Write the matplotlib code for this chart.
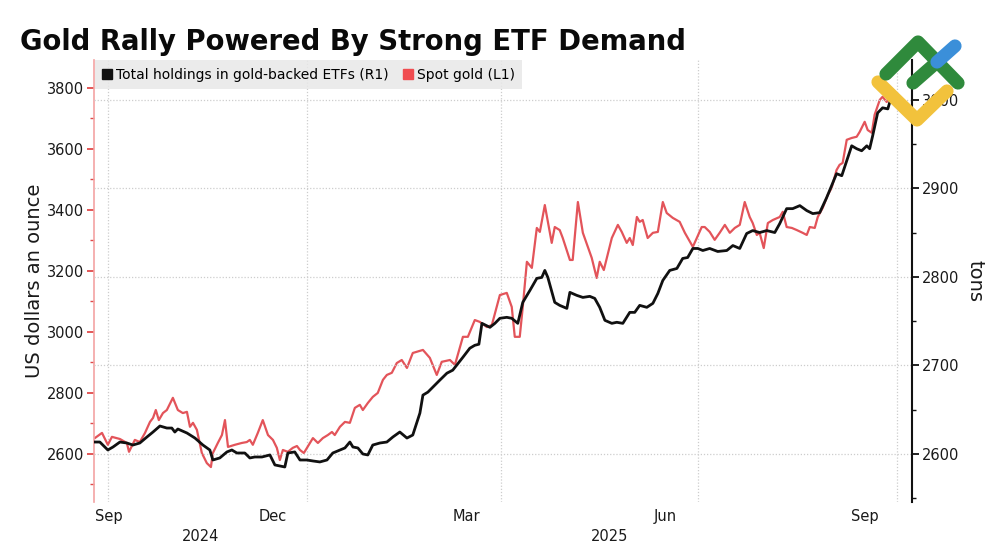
import pandas as pd
import matplotlib
matplotlib.use('Agg')
import matplotlib.pyplot as plt
import matplotlib.dates as mdates
from matplotlib.ticker import MultipleLocator, FixedLocator, NullFormatter
from matplotlib.lines import Line2D

# ---- data (days counted from 2024-09-24) ----
start = pd.Timestamp('2024-09-24')

gold_days = [0.9, 4.2, 6.9, 8.8, 12.5, 15.7, 16.7, 19.4, 21.7, 24.1,
             26.4, 27.8, 29.1, 30.5, 32.4, 34.2, 37.0, 39.3, 41.6, 43.5,
             44.9, 46.3, 48.1, 50.4, 52.7, 54.6, 55.5, 57.8, 59.7, 61.1,
             62.5, 65.7, 68.9, 71.2, 72.6, 74.0, 76.3, 78.6, 81.0, 83.3,
             85.1, 86.5, 87.9, 90.2, 92.5, 94.4, 95.8, 97.6, 100.4, 101.8,
             104.1, 106.4, 108.7, 110.6, 111.9, 114.3, 116.6, 118.9, 121.2, 123.5,
             124.9, 127.2, 129.5, 131.8, 134.2, 136.0, 138.3, 140.6, 142.9, 145.3,
             148.0, 152.7, 155.9, 159.1, 161.4, 165.2, 167.5, 171.2, 173.5, 176.7,
             179.0, 182.3, 184.6, 188.3, 191.5, 193.8, 195.2, 197.5, 198.9, 200.8,
             203.1, 205.4, 206.8, 209.1, 212.3, 213.7, 216.0, 217.4, 220.7, 222.0,
             224.4, 226.7, 230.8, 233.1, 234.5, 236.4, 240.1, 242.9, 244.7, 247.0,
             248.4, 249.8, 251.7, 253.0, 254.4, 256.7, 259.1, 261.4, 263.7, 265.5,
             268.3, 271.5, 273.9, 277.6, 281.7, 283.1, 285.4, 287.7, 290.0, 292.4,
             294.7, 297.0, 299.3, 301.6, 303.9, 305.3, 307.2, 308.5, 310.4, 312.3,
             314.6, 317.8, 319.2, 321.0, 323.4, 325.7, 328.4, 330.3, 331.7, 334.0,
             335.4, 337.7, 340.0, 341.8, 344.1, 345.5, 346.9, 348.8, 351.1, 353.4,
             354.8, 357.1, 358.5, 360.4, 361.7, 364.1, 365.4, 367.3, 368.2, 370.1]

gold_price = [2652, 2669, 2630, 2656, 2649, 2636, 2607, 2646, 2639, 2669,
              2705, 2718, 2744, 2711, 2734, 2744, 2784, 2744, 2734, 2738,
              2689, 2702, 2679, 2603, 2570, 2557, 2603, 2636, 2662, 2711,
              2623, 2630, 2636, 2639, 2646, 2630, 2669, 2711, 2662, 2646,
              2620, 2580, 2613, 2607, 2620, 2626, 2613, 2603, 2636, 2652,
              2636, 2652, 2662, 2672, 2662, 2689, 2705, 2702, 2751, 2761,
              2744, 2767, 2787, 2800, 2843, 2859, 2866, 2898, 2908, 2882,
              2931, 2941, 2915, 2859, 2902, 2908, 2892, 2984, 2984, 3039,
              3033, 3016, 3023, 3121, 3128, 3082, 2984, 2984, 3082, 3230,
              3210, 3341, 3328, 3416, 3292, 3344, 3334, 3308, 3236, 3236,
              3426, 3325, 3243, 3177, 3230, 3203, 3308, 3351, 3328, 3292,
              3308, 3285, 3377, 3361, 3367, 3308, 3325, 3328, 3426, 3390,
              3374, 3361, 3325, 3279, 3344, 3344, 3328, 3302, 3325, 3351,
              3325, 3341, 3351, 3426, 3377, 3357, 3318, 3325, 3275, 3357,
              3367, 3377, 3394, 3344, 3341, 3334, 3325, 3318, 3344, 3341,
              3377, 3407, 3449, 3472, 3531, 3548, 3554, 3630, 3636, 3640,
              3656, 3689, 3662, 3653, 3712, 3761, 3771, 3754, 3767, 3794]

etf_days = [0.9, 3.2, 6.9, 9.3, 12.5, 15.7, 18.5, 21.7, 25.0, 27.8,
            31.0, 34.2, 36.5, 37.9, 39.3, 43.5, 47.2, 50.9, 54.1, 55.5,
            58.7, 62.0, 64.3, 66.6, 70.3, 72.6, 74.9, 78.2, 81.9, 84.2,
            86.5, 88.8, 90.2, 93.4, 95.8, 99.0, 101.8, 105.0, 108.3, 111.0,
            114.3, 116.6, 118.9, 120.3, 122.6, 124.9, 127.2, 129.5, 132.8, 136.0,
            138.8, 142.0, 145.3, 148.0, 151.3, 152.7, 155.0, 158.2, 160.5, 163.8,
            166.5, 171.2, 174.4, 176.7, 178.6, 180.0, 183.7, 186.0, 188.3, 191.5,
            193.8, 196.6, 198.9, 202.2, 205.4, 207.7, 209.1, 210.5, 213.7, 216.0,
            219.3, 220.7, 223.9, 226.7, 229.9, 232.2, 234.5, 236.9, 240.1, 242.4,
            245.2, 248.4, 250.7, 253.0, 256.3, 259.1, 261.4, 263.7, 266.9, 270.2,
            272.9, 275.2, 277.6, 279.9, 282.2, 285.4, 289.1, 293.3, 296.1, 299.3,
            302.5, 305.3, 308.5, 311.8, 315.5, 317.8, 321.0, 323.8, 327.1, 330.3,
            333.1, 336.3, 339.5, 341.8, 344.1, 346.5, 348.8, 351.1, 353.4, 355.7,
            358.1, 359.4, 360.8, 363.1, 365.4, 367.8, 369.6]

etf_tons = [2613.5, 2613.5, 2604.5, 2607.9, 2613.5, 2612.4, 2610.1, 2612.4, 2619.2, 2624.8,
            2631.6, 2629.3, 2629.3, 2624.8, 2628.2, 2623.7, 2618.0, 2610.1, 2604.5, 2593.2,
            2595.5, 2602.3, 2604.5, 2601.1, 2601.1, 2595.5, 2596.6, 2596.6, 2598.9, 2587.6,
            2586.5, 2585.3, 2601.1, 2602.3, 2593.2, 2593.2, 2592.1, 2591.0, 2593.2, 2601.1,
            2604.5, 2606.8, 2613.5, 2607.9, 2606.8, 2600.0, 2598.9, 2610.1, 2612.4, 2613.5,
            2619.2, 2624.8, 2618.0, 2621.4, 2646.2, 2666.5, 2669.9, 2677.8, 2683.4, 2691.3,
            2694.7, 2709.3, 2719.5, 2722.8, 2724.0, 2747.6, 2743.1, 2747.6, 2753.3, 2754.4,
            2753.3, 2747.6, 2771.3, 2784.8, 2798.4, 2799.5, 2807.4, 2799.5, 2771.3, 2767.9,
            2764.5, 2782.6, 2779.2, 2776.9, 2778.1, 2775.8, 2765.7, 2751.0, 2747.6, 2748.8,
            2747.6, 2760.0, 2760.0, 2767.9, 2765.7, 2770.2, 2781.4, 2796.1, 2807.4, 2809.6,
            2820.9, 2822.0, 2832.2, 2832.2, 2829.9, 2832.2, 2828.8, 2829.9, 2835.5, 2832.2,
            2849.1, 2852.4, 2850.2, 2852.4, 2850.2, 2860.3, 2877.2, 2877.2, 2880.6, 2875.0,
            2871.6, 2872.7, 2889.6, 2903.2, 2916.7, 2914.4, 2931.3, 2948.2, 2944.9, 2942.6,
            2948.2, 2944.9, 2959.5, 2985.4, 2991.1, 2989.9, 3004.6]

month_names = ['Sep', 'Dec', 'Mar', 'Jun', 'Sep']
month_mid = ['2024-09-16', '2024-12-16', '2025-03-16', '2025-06-16', '2025-09-16']
quarter_lines = ['2024-10-01', '2025-01-01', '2025-04-01', '2025-07-01', '2025-10-01']
years = ['2024', '2025']

title = 'Gold Rally Powered By Strong ETF Demand'
etf_label = 'Total holdings in gold-backed ETFs (R1)'
gold_label = 'Spot gold (L1)'

# ---- build dates ----
gold_dates = start + pd.to_timedelta(gold_days, unit='D')
etf_dates = start + pd.to_timedelta(etf_days, unit='D')
x_left = start + pd.Timedelta(days=0.5)
x_right = start + pd.Timedelta(days=379)

RED = '#e3545a'
BLACK = '#111111'
GRID = '#cdcdcd'
TXT = '#1a1a1a'

plt.rcParams['font.family'] = ['DejaVu Sans']

fig = plt.figure(figsize=(10, 5.45), dpi=100)
ax = fig.add_axes([0.094, 0.079, 0.818, 0.811])
ax2 = ax.twinx()

ax.plot(gold_dates, gold_price, color=RED, lw=1.6, solid_joinstyle='round')
ax2.plot(etf_dates, etf_tons, color=BLACK, lw=2.0, solid_joinstyle='round')

ax.set_xlim(x_left, x_right)
ax.set_ylim(2442.6, 3891.8)
ax2.set_ylim(2545.8, 3045.2)

# left axis (gold, red)
for s in ['top', 'right', 'bottom']:
    ax.spines[s].set_visible(False)
ax.spines['left'].set_color('#f3a3a3')
ax.spines['left'].set_linewidth(1.2)
ax.yaxis.set_major_locator(MultipleLocator(200))
ax.yaxis.set_minor_locator(MultipleLocator(100))
ax.tick_params(axis='y', which='major', colors='#e04a4a', labelcolor=TXT,
               length=5, width=1.3, labelsize=10.5, pad=2)
ax.tick_params(axis='y', which='minor', colors='#e04a4a', length=3, width=1.0)
ax.set_ylabel('US dollars an ounce', fontsize=14, color=TXT)
ax.yaxis.set_label_coords(-0.061, 0.5)

# right axis (ETF tons, black)
for s in ['top', 'left', 'bottom']:
    ax2.spines[s].set_visible(False)
ax2.spines['right'].set_color(BLACK)
ax2.spines['right'].set_linewidth(1.5)
ax2.yaxis.set_major_locator(MultipleLocator(100))
ax2.yaxis.set_minor_locator(MultipleLocator(50))
ax2.tick_params(axis='y', which='major', colors=BLACK, labelcolor=TXT,
                length=5, width=1.3, labelsize=10.5, pad=2)
ax2.tick_params(axis='y', which='minor', colors=BLACK, length=3, width=1.0)
ax2.set_ylabel('tons', fontsize=14, color=TXT, rotation=270, va='bottom')
ax2.yaxis.set_label_coords(1.066, 0.5)
ax2.yaxis.grid(True, which='major', ls=(0, (1, 1.5)), color=GRID, lw=0.9)

# x axis: quarter gridlines, month labels at mid-month (first one clamped)
q_pos = mdates.date2num(pd.to_datetime(quarter_lines))
ax.xaxis.set_major_locator(FixedLocator(q_pos))
ax.xaxis.set_major_formatter(NullFormatter())
ax.xaxis.grid(True, which='major', ls=(0, (1, 1.5)), color=GRID, lw=0.9)
lab_pos = [max(d, x_left + pd.Timedelta(days=7)) for d in pd.to_datetime(month_mid)]
ax.set_xticks(mdates.date2num(lab_pos), month_names, minor=True)
ax.tick_params(axis='x', which='both', length=0, labelsize=10.5, labelcolor=TXT, pad=5)

year_split = pd.Timestamp('2025-01-01')
year_pos = [x_left + (year_split - x_left) / 2, year_split + (x_right - year_split) / 2]
for yr, pos in zip(years, year_pos):
    ax.annotate(yr, xy=(mdates.date2num(pos), 0), xycoords=('data', 'axes fraction'),
                xytext=(0, -25), textcoords='offset points', ha='center', va='center',
                fontsize=10.5, color=TXT, annotation_clip=False)

# legend
handles = [Line2D([], [], ls='', marker='s', ms=6.5, color=BLACK),
           Line2D([], [], ls='', marker='s', ms=6.5, color='#f04c50')]
leg = ax2.legend(handles, [etf_label, gold_label], loc='upper left', ncol=2,
                 bbox_to_anchor=(0.001, 1.0), borderaxespad=0, fontsize=10,
                 frameon=True, fancybox=False, facecolor='#e8e8e8', edgecolor='none',
                 framealpha=0.85, handlelength=0.7, handletextpad=0.3,
                 columnspacing=1.0, borderpad=0.55)

# title
fig.text(0.02, 0.9083, title, fontsize=19.8, fontweight='bold', color='#0a0a0a', va='baseline')

# watermark logo (top right)
def px(pts):
    return [p[0] / 1000 for p in pts], [1 - p[1] / 545 for p in pts]

logo = [([(878, 82), (917, 120), (947, 91)], '#f2c23c'),
        ([(886, 74), (918, 42), (958, 83)], '#2f8a3c'),
        ([(913, 83), (937, 62)], '#2f8a3c'),
        ([(937, 62), (955, 46)], '#3b8fd9')]
for pts, col in logo:
    xs, ys = px(pts)
    fig.add_artist(Line2D(xs, ys, transform=fig.transFigure, color=col, lw=9.5,
                          solid_capstyle='round', solid_joinstyle='round', zorder=20))

fig.savefig('out.png', dpi=100, facecolor='white')
